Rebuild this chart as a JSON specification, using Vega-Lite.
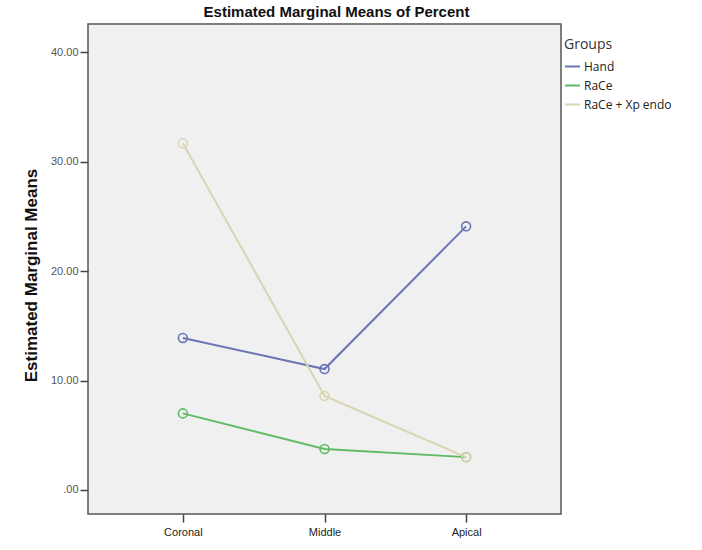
{
  "$schema": "https://vega.github.io/schema/vega-lite/v6.json",
  "width": 473,
  "height": 490,
  "autosize": {"type": "none"},
  "padding": {"left": 88, "top": 24, "right": 141, "bottom": 36},
  "background": "white",
  "title": {"text": "Estimated Marginal Means of Percent", "font": "Liberation Sans", "fontSize": 15, "fontWeight": "bold", "color": "#111111", "anchor": "middle", "dx": 12, "offset": 4},
  "config": {
    "view": {"fill": "#f0f0f0", "stroke": "#555555", "strokeWidth": 1.5},
    "axis": {"grid": false, "domain": false, "labelFont": "Liberation Sans", "labelColor": "#555555", "labelFontSize": 11, "tickColor": "#444444", "tickSize": 8, "tickWidth": 1.5}
  },
  "data": {"values": [
    {"Region": "Coronal", "Group": "Hand", "Mean": 13.9},
    {"Region": "Middle", "Group": "Hand", "Mean": 11.05},
    {"Region": "Apical", "Group": "Hand", "Mean": 24.1},
    {"Region": "Coronal", "Group": "RaCe", "Mean": 7.0},
    {"Region": "Middle", "Group": "RaCe", "Mean": 3.75},
    {"Region": "Apical", "Group": "RaCe", "Mean": 3.0},
    {"Region": "Coronal", "Group": "RaCe + Xp endo", "Mean": 31.7},
    {"Region": "Middle", "Group": "RaCe + Xp endo", "Mean": 8.6},
    {"Region": "Apical", "Group": "RaCe + Xp endo", "Mean": 3.0}
  ]},
  "encoding": {
    "x": {"field": "Region", "type": "nominal", "sort": ["Coronal", "Middle", "Apical"], "scale": {"type": "point", "padding": 0.67}, "axis": {"title": null, "labelAngle": 0, "labelColor": "#222222", "labelPadding": 4}},
    "y": {"field": "Mean", "type": "quantitative", "scale": {"domain": [-2.2, 42.6], "nice": false, "zero": false}, "axis": {"values": [0, 10, 20, 30, 40], "labelExpr": "datum.value == 0 ? '.00' : format(datum.value, '.2f')", "labelPadding": 2, "title": "Estimated Marginal Means", "titleFont": "Liberation Sans", "titleFontSize": 17, "titleFontWeight": "bold", "titleColor": "#111111", "titlePadding": 10, "titleY": 251}},
    "color": {"field": "Group", "type": "nominal", "scale": {"domain": ["Hand", "RaCe", "RaCe + Xp endo"], "range": ["#6a74b6", "#5fbb62", "#d8d5b3"]},
      "legend": {"title": "Groups", "orient": "none", "legendX": 476, "legendY": 14, "titleFont": "Open Sans", "titleFontSize": 14, "titleFontWeight": "normal", "titleColor": "#333333", "labelFont": "Open Sans", "labelFontSize": 12, "labelColor": "#222222", "symbolType": "stroke", "symbolSize": 225, "symbolStrokeWidth": 2, "rowPadding": 4, "titlePadding": 6, "labelOffset": 3}}
  },
  "layer": [
    {"mark": {"type": "line", "strokeWidth": 2}},
    {"mark": {"type": "point", "filled": false, "size": 80, "strokeWidth": 1.6, "opacity": 1}}
  ]
}
